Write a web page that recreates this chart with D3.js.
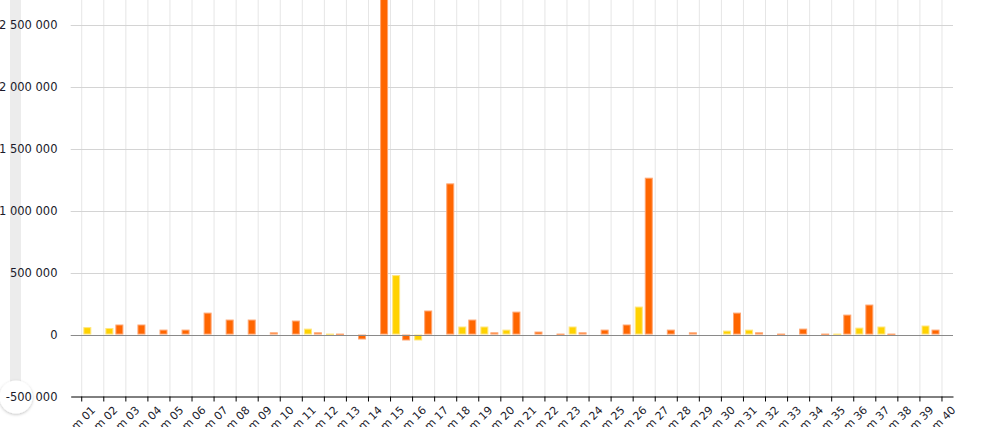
<!DOCTYPE html>
<html>
<head>
<meta charset="utf-8">
<script src="https://cdn.jsdelivr.net/npm/d3@7/dist/d3.min.js"></script>
<style>
  html, body { margin: 0; padding: 0; background: #fff; }
  svg { display: block; font-family: "DejaVu Sans", sans-serif; }
</style>
</head>
<body>
<svg id="chart" width="994" height="427"></svg>
<script>
// ---- data ----
const categories = Array.from({length: 40}, (_, i) => "Item " + String(i + 1).padStart(2, "0"));
const seriesNames = ["Series A", "Series B"];
const seriesA = [60000, 53000, 0, 0, 0, 0, 0, 0, 0, 0,
                 48000, 8000, 0, 0, 480000, -48000, 0, 65000, 65000, 40000,
                 0, 0, 65000, 0, 0, 226000, 0, 0, 0, 32000,
                 40000, 0, 0, 0, 8000, 56000, 65000, 0, 73000, 0];
const seriesB = [0, 81000, 81000, 40000, 40000, 177000, 121000, 121000, 18000, 113000,
                 18000, 8000, -40000, 2900000, -48000, 194000, 1220000, 121000, 18000, 185000,
                 24000, 8000, 18000, 40000, 81000, 1266000, 40000, 18000, 0, 177000,
                 18000, 8000, 48000, 8000, 161000, 242000, 8000, 0, 40000, 0];
const yTicks = [-500000, 0, 500000, 1000000, 1500000, 2000000, 2500000];
const yDomain = [-500000, 2700000];

(function () {
// ---- layout ----
const svg = d3.select("#chart");
const pL = 70.7, pR = 953, pT = 0, pB = 396.5;

const x = d3.scaleBand().domain(categories).range([pL, pR]).padding(0);
const bw = x.bandwidth();
const x1 = d3.scaleBand().domain(seriesNames).range([0.6, 20.6]).paddingInner(0.2).paddingOuter(0.1);
const y = d3.scaleLinear().domain(yDomain).range([pB, pT]);

const colors = {"Series A": "#ffd200", "Series B": "#ff6600"};
const strokes = {"Series A": "#ffe680", "Series B": "#ffa570"};

// left slider strip
svg.append("rect").attr("x", 10).attr("y", 0).attr("width", 11).attr("height", 390).attr("fill", "#ececec");
const defs = svg.append("defs");
const f = defs.append("filter").attr("id", "sh").attr("x", "-50%").attr("y", "-50%").attr("width", "200%").attr("height", "200%");
f.append("feDropShadow").attr("dx", 0).attr("dy", 1).attr("stdDeviation", 1.5).attr("flood-color", "#000").attr("flood-opacity", 0.25);
svg.append("circle").attr("cx", 16).attr("cy", 397).attr("r", 16.5).attr("fill", "#fff").attr("filter", "url(#sh)");

defs.append("clipPath").attr("id", "plot").append("rect")
  .attr("x", pL).attr("y", pT).attr("width", pR - pL).attr("height", pB - pT);

// vertical grid
svg.append("g").selectAll("line").data(categories).join("line")
  .attr("x1", d => x(d) + bw / 2).attr("x2", d => x(d) + bw / 2)
  .attr("y1", pT).attr("y2", pB)
  .attr("stroke", "#e6e6e6").attr("stroke-width", 1);

// horizontal grid
svg.append("g").selectAll("line").data(yTicks.filter(t => t !== 0 && t !== yDomain[0])).join("line")
  .attr("x1", pL).attr("x2", pR)
  .attr("y1", d => Math.round(y(d)) + 0.5).attr("y2", d => Math.round(y(d)) + 0.5)
  .attr("stroke", "#d4d4d4").attr("stroke-width", 1);

// y tick labels
svg.append("g").selectAll("text").data(yTicks).join("text")
  .attr("x", 57.5).attr("y", d => y(d)).attr("dy", "0.35em")
  .attr("text-anchor", "end").attr("font-size", 11.5).attr("fill", "#1a1a2a")
  .text(d => d3.format(",")(d).replace(/,/g, " ").replace("−", "-"));

// bars
const bars = svg.append("g").attr("clip-path", "url(#plot)");
const rows = categories.map((c, i) => ({c, vals: [
  {k: "Series A", v: seriesA[i]}, {k: "Series B", v: seriesB[i]}]}));
bars.selectAll("g").data(rows).join("g")
  .attr("transform", d => `translate(${x(d.c) + bw / 2},0)`)
  .selectAll("rect").data(d => d.vals.filter(e => e.v !== 0)).join("rect")
  .attr("x", d => x1(d.k) + 0.5)
  .attr("width", x1.bandwidth() - 1)
  .attr("y", d => Math.min(y(d.v), y(0)) + 0.5)
  .attr("height", d => Math.max(0.5, Math.abs(y(d.v) - y(0)) - 1))
  .attr("fill", d => colors[d.k])
  .attr("stroke", d => strokes[d.k]).attr("stroke-width", 1);

// zero line
svg.append("line").attr("x1", pL).attr("x2", pR)
  .attr("y1", Math.round(y(0)) + 0.5).attr("y2", Math.round(y(0)) + 0.5)
  .attr("stroke", "#8a8a8a").attr("stroke-width", 1);

// x axis
const xAxis = svg.append("g").attr("transform", `translate(0,${pB})`)
  .call(d3.axisBottom(x).tickSize(5).tickSizeOuter(0));
xAxis.select(".domain").attr("stroke", "#000");
xAxis.selectAll(".tick line").attr("stroke", "#000");
xAxis.selectAll(".tick text")
  .attr("font-size", 11).attr("font-family", "DejaVu Sans, sans-serif").attr("fill", "#1a1a2a")
  .attr("text-anchor", "end")
  .attr("transform", "translate(4,4) rotate(-45)")
  .attr("dy", "0.6em");
})();
</script>
</body>
</html>
